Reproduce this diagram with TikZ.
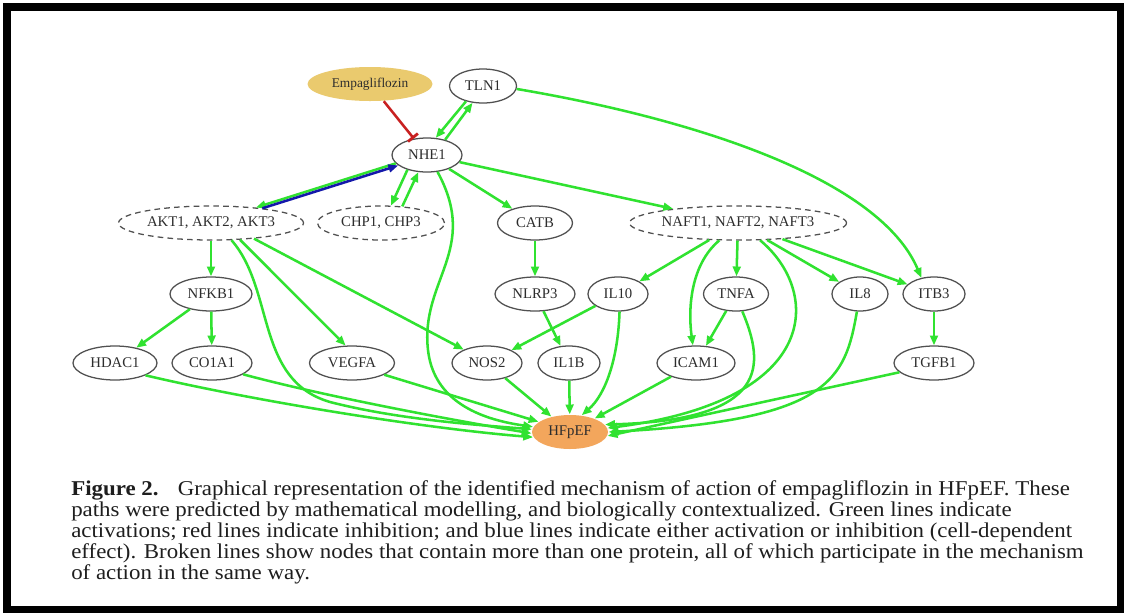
\documentclass[tikz,border=0pt]{standalone}
\usepackage{fontspec}
\setmainfont{Liberation Serif}
\newfontfamily\capfont[FakeStretch=1.085]{Liberation Serif}
\usetikzlibrary{arrows.meta,shapes.geometric}

\definecolor{actgreen}{RGB}{48,226,48}
\definecolor{inhred}{RGB}{200,32,32}
\definecolor{dualblue}{RGB}{20,24,170}
\definecolor{drugfill}{RGB}{234,202,110}
\definecolor{hffill}{RGB}{243,166,92}
\definecolor{nodeline}{RGB}{80,80,80}
\definecolor{nodetext}{RGB}{45,45,45}
\definecolor{captext}{RGB}{30,30,30}

\begin{document}
\begin{tikzpicture}[x=0.25mm,y=-0.25mm,
	prot/.style={ellipse,draw=nodeline,line width=0.9pt,inner sep=0pt,
		minimum height=8.5mm,text=nodetext,font=\fontsize{10.5}{12}\selectfont},
	group/.style={prot,dash pattern=on 4pt off 3pt},
	act/.style={actgreen,line width=1.8pt,-{Triangle[length=7pt,width=5.5pt]}},
	dual/.style={dualblue,line width=1.8pt,-{Triangle[length=7pt,width=5.5pt]}},
	inh/.style={inhred,line width=1.8pt,-{Bar[width=9pt,line width=2pt]}},
	capline/.style={anchor=base west,inner sep=0pt,text=captext,
		font=\capfont\fontsize{15}{15}\selectfont}]
	\useasboundingbox (0,0) rectangle (1126,615);
	% frame
	\fill[black] (3,3) rectangle (1124,613);
	\fill[white] (11,11) rectangle (1117,606);
	% top
	\node[prot,fill=drugfill,draw=none,minimum width=31.25mm,
		font=\fontsize{9.5}{11}\selectfont] (emp) at (370,84) {Empagliflozin};
	\node[prot,minimum width=16.75mm] (tln) at (483,86) {TLN1};
	\node[prot,minimum width=17.5mm] (nhe) at (427,155) {NHE1};
	% first row
	\node[group,minimum width=46.25mm] (akt) at (211,223) {AKT1, AKT2, AKT3};
	\node[group,minimum width=31.75mm] (chp) at (381,223) {CHP1, CHP3};
	\node[prot,minimum width=18.75mm] (catb) at (535,223) {CATB};
	\node[group,minimum width=54.25mm] (naft) at (738,223) {NAFT1, NAFT2, NAFT3};
	% second row
	\node[prot,minimum width=20.5mm] (nfkb) at (211,294) {NFKB1};
	\node[prot,minimum width=20mm] (nlrp) at (535,294) {NLRP3};
	\node[prot,minimum width=15mm] (il10) at (618,294) {IL10};
	\node[prot,minimum width=16.25mm] (tnfa) at (736,294) {TNFA};
	\node[prot,minimum width=14mm] (il8) at (860,294) {IL8};
	\node[prot,minimum width=15.5mm] (itb3) at (934,294) {ITB3};
	% third row
	\node[prot,minimum width=21mm] (hdac) at (115,363) {HDAC1};
	\node[prot,minimum width=20mm] (coa) at (212,363) {CO1A1};
	\node[prot,minimum width=21.25mm] (vegfa) at (352,363) {VEGFA};
	\node[prot,minimum width=17.5mm] (nos2) at (487,363) {NOS2};
	\node[prot,minimum width=15.5mm] (il1b) at (569,363) {IL1B};
	\node[prot,minimum width=19.5mm] (icam) at (696,363) {ICAM1};
	\node[prot,minimum width=20mm] (tgfb) at (934,363) {TGFB1};
	% outcome
	\node[prot,fill=hffill,draw=none,minimum width=19mm] (hfpef) at (570,432) {HFpEF};

	% drug
	\draw[inh] (emp) -- (nhe);
	% NHE1 loops
	\draw[act] (tln.222) -- (nhe.63);
	\draw[act] (nhe.40) -- (tln.238);
	\draw[act] (nhe.195) -- (akt.19);
	\draw[dual] (akt.16) -- (nhe.200);
	\draw[act] (nhe.217) -- (chp.60);
	\draw[act] (chp.38) -- (nhe.243);
	% NHE1, TLN1 out
	\draw[act] (nhe) -- (catb);
	\draw[act] (nhe) -- (naft);
	\draw[act] (nhe.-58) .. controls (480,250) and (420,280) .. (428,350)
		.. controls (433,395) and (470,418) .. (hfpef.172);
	\draw[act] (tln.-5) .. controls (700,120) and (880,180) .. (itb3.128);
	% AKT out
	\draw[act] (akt) -- (nfkb);
	\draw[act] (akt.-30) -- (vegfa.110);
	\draw[act] (akt.-20) -- (nos2.150);
	\draw[act] (akt.-40) .. controls (275,290) and (255,380) .. (330,402)
		.. controls (400,420) and (480,425) .. (hfpef.176);
	\draw[act] (nfkb) -- (hdac);
	\draw[act] (nfkb) -- (coa);
	% CATB out
	\draw[act] (catb) -- (nlrp);
	\draw[act] (nlrp) -- (il1b);
	% NAFT out
	\draw[act] (naft) -- (il10);
	\draw[act] (naft.-137) .. controls (690,265) and (688,310) .. (icam.100);
	\draw[act] (naft) -- (tnfa);
	\draw[act] (naft.-38) .. controls (820,290) and (825,400) .. (hfpef.6);
	\draw[act] (naft) -- (il8);
	\draw[act] (naft) -- (itb3);
	% second row out
	\draw[act] (il10) -- (nos2);
	\draw[act] (il10.-85) .. controls (618,360) and (605,395) .. (hfpef.55);
	\draw[act] (tnfa) -- (icam);
	\draw[act] (tnfa.-70) .. controls (765,365) and (770,420) .. (hfpef.12);
	\draw[act] (il8.-100) .. controls (845,380) and (830,420) .. (hfpef.0);
	\draw[act] (itb3) -- (tgfb);
	% into HFpEF
	\draw[act] (hdac.-22) .. controls (250,400) and (420,428) .. (hfpef.188);
	\draw[act] (coa.-20) .. controls (320,395) and (440,418) .. (hfpef.182);
	\draw[act] (vegfa.-20) -- (hfpef.162);
	\draw[act] (nos2) -- (hfpef);
	\draw[act] (il1b) -- (hfpef);
	\draw[act] (icam) -- (hfpef);
	\draw[act] (tgfb.195) -- (hfpef.-6);

	% caption
	\node[capline] (cap1) at (71,495) {\textbf{Figure 2.}\hspace{0.55em} Graphical representation of the identified mechanism of action of empagliflozin in HFpEF. These};
	\node[capline] (cap2) at (71,516) {paths were predicted by mathematical modelling, and biologically contextualized. Green lines indicate};
	\node[capline] (cap3) at (71,537) {activations; red lines indicate inhibition; and blue lines indicate either activation or inhibition (cell-dependent};
	\node[capline] (cap4) at (71,558) {effect). Broken lines show nodes that contain more than one protein, all of which participate in the mechanism};
	\node[capline] (cap5) at (71,579) {of action in the same way.};
\end{tikzpicture}
\end{document}
